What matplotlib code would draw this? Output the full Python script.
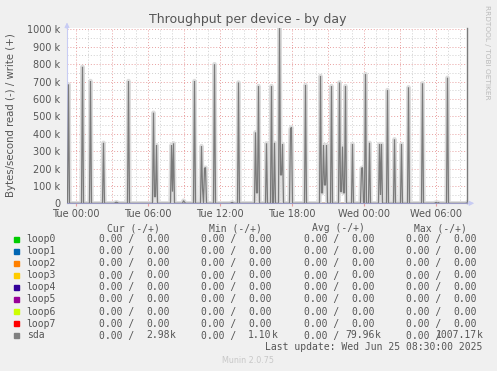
import matplotlib
matplotlib.use("Agg")
import matplotlib.pyplot as plt
import numpy as np

# ---------------------------------------------------------------------------
# Data (minutes after Tue 00:00, 5-minute steps; values in kB/s, write side)
# ---------------------------------------------------------------------------
grid_start, grid_end, step = -40, 1955, 5

spike_minutes = [-35, 35, 75, 140, 265, 390, 395, 400, 405, 480, 485, 490,
                 540, 595, 630, 635, 645, 650, 695, 815, 900, 905, 910, 915,
                 955, 980, 995, 1020, 1025, 1030, 1035, 1075, 1080, 1150,
                 1225, 1230, 1235, 1240, 1245, 1250, 1255, 1280, 1320, 1325,
                 1330, 1335, 1340, 1345, 1350, 1385, 1430, 1435, 1450, 1470,
                 1520, 1525, 1530, 1560, 1595, 1630, 1665, 1735, 1860]
spike_kbytes = [684, 785, 703, 348, 703, 521, 38, 38, 335, 335, 67, 345,
                15, 703, 329, 88, 201, 205, 800, 695, 408, 60, 60, 674,
                345, 674, 348, 1007, 163, 163, 341, 427, 437, 680,
                732, 60, 60, 335, 105, 105, 335, 674, 695, 67,
                67, 326, 60, 60, 674, 341, 201, 205, 743, 348,
                341, 48, 341, 651, 368, 341, 667, 690, 722]
quiet_minutes = [200, 205, 210, 545, 780, 785, 1800, 1805, 1815, 1955]
quiet_kbytes = [5, 6, 4, 8, 4, 5, 4, 5, 4, 2.98]

devices = ["loop0", "loop1", "loop2", "loop3", "loop4", "loop5", "loop6",
           "loop7", "sda"]
colors = ["#00CC00", "#0066B3", "#FF8000", "#FFCC00", "#330099", "#990099",
          "#CCFF00", "#FF0000", "#808080"]
cur_vals = ["0.00", "0.00", "0.00", "0.00", "0.00", "0.00", "0.00", "0.00", "2.98k"]
min_vals = ["0.00", "0.00", "0.00", "0.00", "0.00", "0.00", "0.00", "0.00", "1.10k"]
avg_vals = ["0.00", "0.00", "0.00", "0.00", "0.00", "0.00", "0.00", "0.00", "79.96k"]
max_vals = ["0.00", "0.00", "0.00", "0.00", "0.00", "0.00", "0.00", "0.00", "1007.17k"]

tick_minutes = [0, 360, 720, 1080, 1440, 1800]
tick_labels = ["Tue 00:00", "Tue 06:00", "Tue 12:00", "Tue 18:00",
               "Wed 00:00", "Wed 06:00"]

# build the sda write series on the 5-minute grid
t = np.arange(grid_start, grid_end + step, step)
sda = np.zeros(len(t))
for m, v in zip(spike_minutes + quiet_minutes, spike_kbytes + quiet_kbytes):
    sda[(m - grid_start) // step] = v * 1000.0

# ---------------------------------------------------------------------------
W, H = 497, 371
TXT = "#555555"
fig = plt.figure(figsize=(W / 100, H / 100), dpi=100)
fig.patch.set_facecolor("#F0F0F0")

def fx(x):
    return x / W

def fy(y):
    return 1 - y / H

ax = fig.add_axes([fx(67), fy(203.3), 400 / W, (203.3 - 27.6) / H])
ax.set_facecolor("white")
ax.set_xlim(-42.5, 1957.5)
ax.set_ylim(0, 1010e3)

# grid: minor every hour / 50k, major (red) every 3 h / 100k
for m in range(0, 1958, 60):
    col = "#E8A0A0" if m % 180 == 0 else "#CFCFCF"
    ax.axvline(m, color=col, lw=0.7, ls=(0, (1, 2)), zorder=0)
for v in range(50000, 1010000, 50000):
    col = "#E8A0A0" if v % 100000 == 0 else "#CFCFCF"
    ax.axhline(v, color=col, lw=0.7, ls=(0, (1, 2)), zorder=0)

# series (reads are all zero, writes of loops are zero)
for c in colors[:-1]:
    ax.plot(t, np.zeros(len(t)), color=c, lw=0.8, zorder=2)
ax.plot(t, -np.zeros(len(t)), color=colors[-1], lw=0.8, zorder=2)
# soft anti-alias halo like rrdtool's rendering, then the line itself
ax.plot(t, sda, color="#DCDCDC", lw=3.2, zorder=2.5, solid_joinstyle="round")
ax.plot(t, sda, color="#7A7A7A", lw=0.9, zorder=3, solid_joinstyle="miter")

# axes styling
ax.spines["top"].set_visible(False)
ax.spines["right"].set_color("#7A7A7A")
ax.spines["right"].set_linewidth(1.0)
ax.spines["left"].set_color("#C8CCF4")
ax.spines["bottom"].set_color("#9A9AC4")
ax.spines["left"].set_linewidth(0.8)
ax.spines["bottom"].set_linewidth(0.8)
ax.spines["bottom"].set_zorder(4)

ax.set_xticks(tick_minutes)
ax.set_xticklabels(tick_labels)
ax.set_yticks(np.arange(0, 1000001, 100000))
ax.set_yticklabels(["0"] + [f"{k} k" for k in range(100, 1001, 100)])
ax.tick_params(axis="x", length=2, color="#E8A0A0", labelsize=7,
               labelcolor=TXT, pad=2)
ax.tick_params(axis="y", length=0, labelsize=7, labelcolor=TXT, pad=5)

# axis arrows
ax.annotate("", xy=(0, 1.045), xytext=(0, 0.98), xycoords="axes fraction",
            arrowprops=dict(arrowstyle="-|>", color="#C8CCF4", lw=0.8,
                            mutation_scale=7), annotation_clip=False)
ax.annotate("", xy=(1.025, 0), xytext=(0.99, 0), xycoords="axes fraction",
            arrowprops=dict(arrowstyle="-|>", color="#C8CCF4", lw=0.8,
                            mutation_scale=7), annotation_clip=False)

# titles
fig.text(fx(248), fy(19), "Throughput per device - by day", ha="center",
         va="center", fontsize=9, color=TXT)
fig.text(fx(11), fy(115), "Bytes/second read (-) / write (+)", rotation=90,
         ha="center", va="center", fontsize=7.3, color=TXT)
fig.text(fx(487), fy(5), "RRDTOOL / TOBI OETIKER", rotation=270, ha="center",
         va="top", fontsize=5.3, color="#BBBBBB")

# legend table
MONO = dict(family="DejaVu Sans Mono", fontsize=7, color=TXT, va="center")
col_start = [99.3, 201, 304, 406]
col_end = [170.1, 271.8, 374.8, 476.8]
headers = ["Cur (-/+)", "Min (-/+)", "Avg (-/+)", "Max (-/+)"]
for x0, hd in zip(col_start, headers):
    fig.text(fx(x0 + 8), fy(228.3), hd, ha="left", **MONO)

row_y = [239.3, 251.3, 263.3, 275.5, 287.4, 299.4, 311.6, 323.6, 335.5]
for i, dev in enumerate(devices):
    y = row_y[i]
    fig.patches.append(plt.Rectangle((fx(14), fy(y + 2.6)), 5.2 / W, 5.2 / H,
                                     transform=fig.transFigure,
                                     color=colors[i], figure=fig))
    fig.text(fx(26.7), fy(y), dev, ha="left", **MONO)
    for j, vals in enumerate([cur_vals, min_vals, avg_vals, max_vals]):
        fig.text(fx(col_start[j]), fy(y), "0.00 /", ha="left", **MONO)
        val = vals[i]
        num = val.rstrip("k")
        unit = val[len(num):]
        fig.text(fx(col_end[j]), fy(y), num, ha="right", **MONO)
        if unit:
            fig.text(fx(col_end[j]), fy(y), unit, ha="left", **MONO)

fig.text(fx(482), fy(347.3), "Last update: Wed Jun 25 08:30:00 2025",
         ha="right", **MONO)
fig.text(fx(248), fy(360.3), "Munin 2.0.75", ha="center", va="center",
         fontsize=5.8, color="#C8C8C8")

fig.savefig("out.png", dpi=100, facecolor=fig.get_facecolor())
